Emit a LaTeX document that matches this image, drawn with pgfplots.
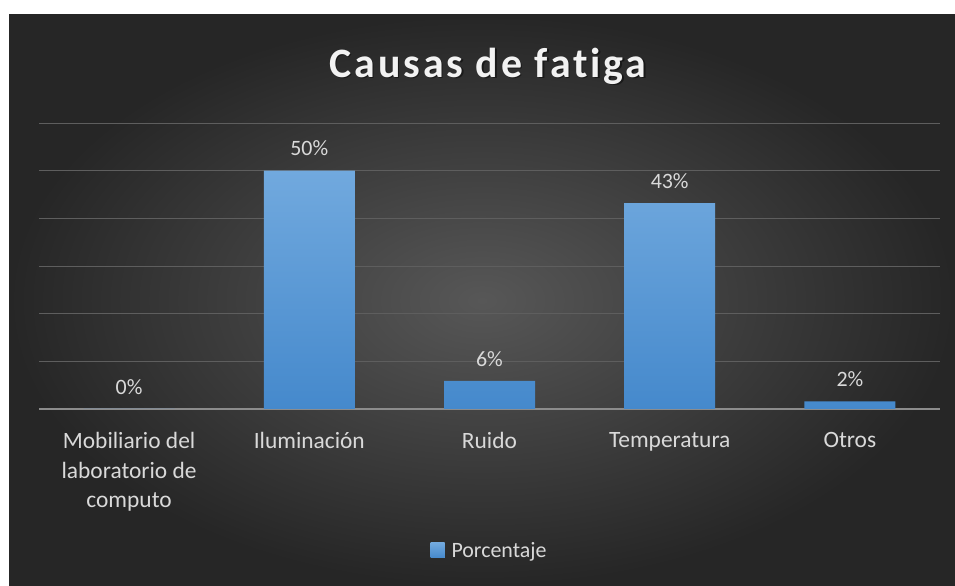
\documentclass[border=0pt]{standalone}
\usepackage{pgfplots}
\pgfplotsset{compat=1.18}
\usepackage{fontspec}
\setmainfont{Carlito}
\newfontfamily\titlefont[LetterSpace=7, Ligatures=NoCommon]{Carlito}
\definecolor{bgin}{HTML}{575757}
\definecolor{bgout}{HTML}{262626}
\definecolor{gridc}{HTML}{5E5E5E}
\definecolor{axisc}{HTML}{8C8C8C}
\definecolor{txt}{HTML}{D9D9D9}
\definecolor{bartop}{HTML}{71A9DE}
\definecolor{barbot}{HTML}{4589CC}
\definecolor{barleg}{HTML}{5B9BD5}
\begin{document}
\begin{tikzpicture}[x=1bp,y=1bp]
\useasboundingbox (0,0) rectangle (955,586);
\fill[white] (0,0) rectangle (955,586);
\shade[inner color=bgin, outer color=bgout] (9,0) rectangle (955,571);
\node[font=\titlefont\bfseries\fontsize{42}{46}\selectfont, text=black, opacity=0.45] at (489.5,518.5) {Causas de fatiga};
\node[font=\titlefont\bfseries\fontsize{42}{46}\selectfont, text=white!95!black] at (488,520) {Causas de fatiga};
\begin{axis}[
  at={(39bp,177bp)}, anchor=south west,
  scale only axis, width=901bp, height=286bp,
  xmin=-0.5, xmax=4.5, ymin=0, ymax=60,
  axis line style={draw=none},
  tick style={draw=none},
  ytick={10,20,...,60},
  yticklabels={},
  ymajorgrids,
  grid style={color=gridc, line width=0.9pt},
  extra y ticks={0},
  extra y tick labels={},
  extra y tick style={grid style={color=axisc, line width=1.6pt}},
  xtick={0,1,2,3,4},
  xticklabels={{Mobiliario del\\laboratorio de\\computo},Iluminación,Ruido,Temperatura,Otros},
  xticklabel style={font=\fontsize{23.5}{29.5}\selectfont, text=txt, align=center, yshift=-20bp},
  enlargelimits=false,
  clip=false,
  legend style={at={(0.5,-0.4965)}, anchor=center, draw=none, fill=none,
    font=\fontsize{22}{24}\selectfont, text=txt},
  legend image code/.code={\path (0bp,0bp) -- (19bp,0bp); \fill[barleg] (0bp,-7bp) rectangle (14bp,8bp);},
]
\addplot[ybar, bar width=91bp, draw=none, top color=bartop, bottom color=barbot,
  nodes near coords={\pgfmathprintnumber[fixed,precision=0,assume math mode=true]{\pgfplotspointmeta}\%},
  nodes near coords style={font=\fontsize{22}{24}\selectfont, text=txt, yshift=11bp},
] coordinates {(0,0) (1,50) (2,5.9) (3,43.2) (4,1.6)};
\addlegendentry{Porcentaje}
\end{axis}
\end{tikzpicture}
\end{document}
